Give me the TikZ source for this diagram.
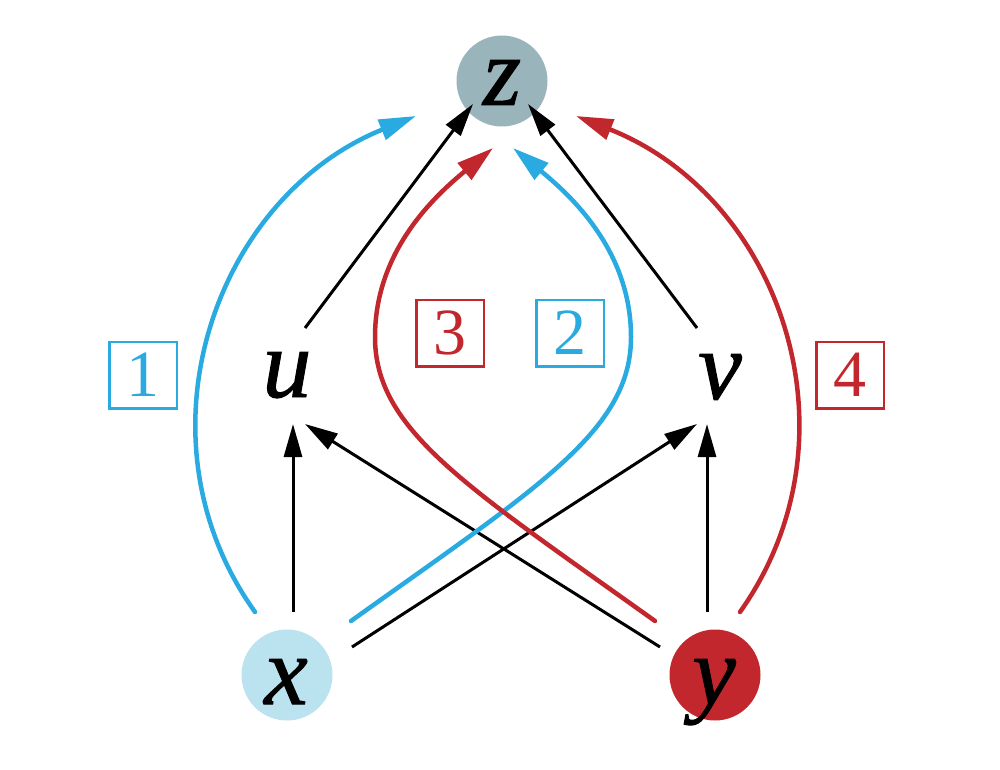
\documentclass[tikz,border=0pt]{standalone}
\usepackage{fontspec}
\setmainfont{Liberation Serif}
\newfontface\varfont{Liberation Serif Italic}[FakeBold=1]
\usetikzlibrary{arrows.meta,calc}
\definecolor{cblue}{HTML}{29ABE2}
\definecolor{cred}{HTML}{C1272D}
\definecolor{xfill}{HTML}{BAE2EF}
\definecolor{zfill}{HTML}{9AB4BC}
\begin{document}
\begin{tikzpicture}[x=1pt,y=-1pt,
  vert/.style={circle,minimum size=91pt,inner sep=0pt,draw=none},
  var/.style={font=\fontsize{98}{98}\varfont,inner sep=0pt,anchor=base},
  num/.style={draw,line width=2.5pt,minimum width=67.5pt,minimum height=66.5pt,inner sep=0pt,font=\fontsize{66}{66}\selectfont},
  blk/.style={line width=3pt,-{Triangle[length=33pt,width=18pt]}},
  cb/.style={line width=4.5pt,draw=cblue,line cap=round,-{Triangle[length=37pt,width=21pt,fill=cblue]}},
  cr/.style={line width=4.5pt,draw=cred,line cap=round,-{Triangle[length=37pt,width=21pt,fill=cred]}}
]
\useasboundingbox (0,0) rectangle (1000,770);
% vertices
\node[vert,fill=zfill] (z) at (502,81) {};
\node[vert,fill=xfill] (x) at (287,675) {};
\node[vert,fill=cred] (y) at (715,675) {};
\node[var] (zl) at (502,105) {z};
\node[var] (xl) at (286,704) {x};
\node[var] (yl) at (714,704) {y};
\node[var] (u) at (287,397) {u};
\node[var] (v) at (720,399) {v};
% labels
\node[num,draw=cblue,text=cblue] (n1) at (143,375) {1};
\node[num,draw=cred,text=cred] (n3) at (450,333) {3};
\node[num,draw=cblue,text=cblue] (n2) at (570,333) {2};
\node[num,draw=cred,text=cred] (n4) at (850,375) {4};
% black edges
\draw[blk] ($(x)+(6,-63)$) -- ($(u.base)+(6,27)$);
\draw[blk] ($(y)+(-55,-28)$) -- ($(u.base)+(18,27)$);
\draw[blk] ($(x)+(65,-28)$) -- ($(v.base)+(-23,25)$);
\draw[blk] ($(y)+(-8,-63)$) -- ($(v.base)+(-13,25)$);
\draw[blk] ($(u.base)+(18,-69)$) -- ($(z)+(-29,23)$);
\draw[blk] ($(v.base)+(-23,-71)$) -- ($(z)+(26,23)$);
% coloured paths
\draw[cb] ($(x)+(-32,-63)$) .. controls (130,437) and (215,197) .. ($(z)+(-86,35)$);
\draw[cr] ($(y)+(25,-63)$) .. controls (864,437) and (781,197) .. ($(z)+(74,35)$);
\draw[cb] ($(x)+(64,-54)$) .. controls (540,486) and (631,430) .. (631,337)
  .. controls (631,250) and (570,195) .. ($(z)+(11,67)$);
\draw[cr] ($(y)+(-60,-54)$) .. controls (466,486) and (375,430) .. (375,337)
  .. controls (375,250) and (436,195) .. ($(z)+(-9,67)$);
\end{tikzpicture}
\end{document}
